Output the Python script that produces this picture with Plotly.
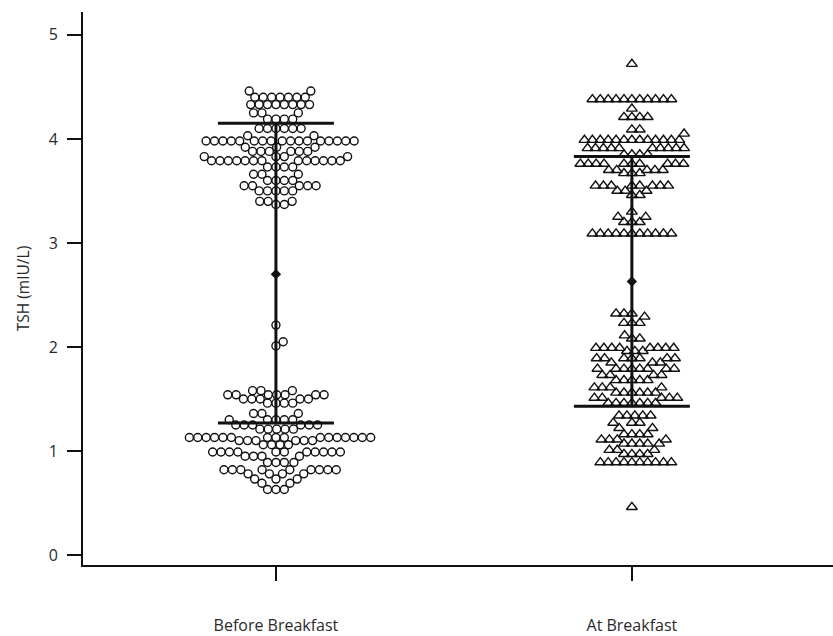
import numpy as np
import plotly.graph_objects as go

# Group labels and their category positions on the x axis
groups = ["Before Breakfast", "At Breakfast"]
group_pos = [0, 1]

# TSH readings (mIU/L), before breakfast
before_tsh = [
    4.46, 4.46,
    4.40, 4.40, 4.40, 4.40, 4.40, 4.40, 4.40,
    4.33, 4.33, 4.33, 4.33, 4.33, 4.33, 4.33, 4.33,
    4.25, 4.25, 4.25,
    4.19, 4.19, 4.19, 4.19,
    4.10, 4.10, 4.10, 4.10, 4.10, 4.10,
    4.03, 4.03,
    3.98, 3.98, 3.98, 3.98, 3.98, 3.98, 3.98, 3.98, 3.98, 3.98, 3.98, 3.98,
    3.98, 3.98, 3.98, 3.98, 3.98,
    3.92, 3.92, 3.92,
    3.88, 3.88, 3.88, 3.88, 3.88, 3.88,
    3.83, 3.83, 3.83, 3.83,
    3.79, 3.79, 3.79, 3.79, 3.79, 3.79, 3.79, 3.79, 3.79, 3.79, 3.79, 3.79, 3.79,
    3.73, 3.73, 3.73, 3.73,
    3.66, 3.66, 3.66,
    3.60, 3.60, 3.60, 3.60,
    3.55, 3.55, 3.55, 3.55, 3.55,
    3.50, 3.50, 3.50, 3.50, 3.50,
    3.40, 3.40, 3.40,
    3.37, 3.37,
    2.21, 2.05, 2.01,
    1.58, 1.58, 1.58,
    1.54, 1.54, 1.54, 1.54, 1.54, 1.54, 1.54,
    1.50, 1.50, 1.50, 1.50, 1.50,
    1.46, 1.46, 1.46, 1.46,
    1.36, 1.36, 1.36,
    1.30, 1.30, 1.30, 1.30, 1.30,
    1.25, 1.25, 1.25, 1.25, 1.25, 1.25,
    1.21, 1.21, 1.21, 1.21, 1.21,
    1.13, 1.13, 1.13, 1.13, 1.13, 1.13, 1.13, 1.13, 1.13, 1.13, 1.13, 1.13,
    1.13, 1.13, 1.13, 1.13,
    1.10, 1.10, 1.10, 1.10, 1.10, 1.10,
    1.06, 1.06, 1.06, 1.06,
    0.99, 0.99, 0.99, 0.99, 0.99, 0.99, 0.99, 0.99, 0.99, 0.99, 0.99,
    0.95, 0.95, 0.95, 0.95,
    0.89, 0.89, 0.89, 0.89,
    0.82, 0.82, 0.82, 0.82, 0.82, 0.82, 0.82, 0.82, 0.82,
    0.78, 0.78, 0.78, 0.78,
    0.73, 0.73, 0.73,
    0.69, 0.69,
    0.63, 0.63, 0.63,
]

# TSH readings (mIU/L), at breakfast
at_tsh = [
    4.72,
    4.38, 4.38, 4.38, 4.38, 4.38, 4.38, 4.38, 4.38, 4.38, 4.38, 4.38,
    4.29,
    4.21, 4.21, 4.21, 4.21,
    4.09, 4.09,
    4.05,
    3.99, 3.99, 3.99, 3.99, 3.99, 3.99, 3.99, 3.99, 3.99, 3.99, 3.99, 3.99, 3.99,
    3.91, 3.91, 3.91, 3.91, 3.91, 3.91, 3.91, 3.91, 3.91, 3.91,
    3.85, 3.85, 3.85, 3.85,
    3.76, 3.76, 3.76, 3.76, 3.76, 3.76, 3.76, 3.76, 3.76, 3.76,
    3.70, 3.70, 3.70, 3.70, 3.70,
    3.67, 3.67, 3.67,
    3.55, 3.55, 3.55, 3.55, 3.55, 3.55, 3.55, 3.55,
    3.50, 3.50, 3.50,
    3.46, 3.46,
    3.30,
    3.25, 3.25,
    3.20, 3.20, 3.20,
    3.09, 3.09, 3.09, 3.09, 3.09, 3.09, 3.09, 3.09, 3.09, 3.09, 3.09,
    2.32, 2.32, 2.32,
    2.29,
    2.23, 2.23, 2.23,
    2.11,
    2.08, 2.08,
    1.99, 1.99, 1.99, 1.99, 1.99, 1.99, 1.99, 1.99,
    1.96, 1.96, 1.96,
    1.89, 1.89, 1.89, 1.89, 1.89, 1.89, 1.89,
    1.85, 1.85, 1.85,
    1.79, 1.79, 1.79, 1.79, 1.79, 1.79, 1.79, 1.79,
    1.73, 1.73, 1.73, 1.73,
    1.68, 1.68, 1.68, 1.68, 1.68,
    1.61, 1.61, 1.61, 1.61,
    1.56, 1.56, 1.56, 1.56, 1.56, 1.56,
    1.51, 1.51, 1.51, 1.51, 1.51,
    1.46, 1.46, 1.46, 1.46, 1.46, 1.46, 1.46,
    1.34, 1.34, 1.34, 1.34, 1.34,
    1.27, 1.27, 1.27,
    1.22, 1.22,
    1.16, 1.16, 1.16, 1.16,
    1.11, 1.11, 1.11, 1.11,
    1.07, 1.07, 1.07, 1.07, 1.07,
    1.01, 1.01, 1.01,
    0.97, 0.97, 0.97, 0.97,
    0.89, 0.89, 0.89, 0.89, 0.89, 0.89, 0.89, 0.89, 0.89, 0.89,
    0.46,
]

# Group means and the lower / upper ends of the spread bars (mean ± SD)
group_mean = [2.70, 2.63]
group_low = [1.27, 1.43]
group_high = [4.15, 3.83]

# Figure geometry
W, H = 833, 636
M_L, M_R, M_T, M_B = 83, 0, 12, 68
X_RANGE = [-0.542, 1.565]
Y_RANGE = [-0.096, 5.22]
px_per_x = (W - M_L - M_R) / (X_RANGE[1] - X_RANGE[0])
px_per_y = (H - M_T - M_B) / (Y_RANGE[1] - Y_RANGE[0])


def swarm_offsets(values, diam):
    """Beeswarm layout: horizontal pixel offsets so markers of the given
    diameter do not overlap, each placed as close to the centre as possible."""
    ys = np.asarray(values, dtype=float) * px_per_y
    xs = np.zeros(len(ys))
    placed = []
    for i in np.argsort(ys, kind="stable"):
        y = ys[i]
        near = [(px, py) for px, py in placed if abs(py - y) < diam]
        cands = [0.0]
        for px, py in near:
            dx = np.sqrt(diam * diam - (py - y) ** 2)
            cands += [px + dx, px - dx]
        cands.sort(key=abs)
        for c in cands:
            if all((c - px) ** 2 + (y - py) ** 2 >= diam * diam - 1e-6 for px, py in near):
                xs[i] = c
                break
        placed.append((xs[i], y))
    return xs


before_x = group_pos[0] + swarm_offsets(before_tsh, 8.4) / px_per_x
at_x = group_pos[1] + swarm_offsets(at_tsh, 7.9) / px_per_x

fig = go.Figure()

fig.add_trace(go.Scatter(
    x=before_x, y=before_tsh, mode="markers",
    marker=dict(symbol="circle-open", size=8, color="#111111",
                line=dict(width=1.4, color="#111111")),
    hoverinfo="y", showlegend=False,
))
fig.add_trace(go.Scatter(
    x=at_x, y=at_tsh, mode="markers",
    marker=dict(symbol="triangle-up-open", size=9.5, color="#111111",
                line=dict(width=1.4, color="#111111")),
    hoverinfo="y", showlegend=False,
))

# Mean with spread bars
fig.add_trace(go.Scatter(
    x=group_pos, y=group_mean, mode="markers",
    marker=dict(symbol="diamond", size=8, color="#111111"),
    error_y=dict(
        type="data", symmetric=False,
        array=[h - m for h, m in zip(group_high, group_mean)],
        arrayminus=[m - l for m, l in zip(group_mean, group_low)],
        color="#111111", thickness=3, width=58,
    ),
    showlegend=False,
))

font_family = "Open Sans, Noto Sans, sans-serif"
text_color = "#2a2a2a"

fig.update_layout(
    width=W, height=H,
    margin=dict(l=M_L, r=M_R, t=M_T, b=M_B, pad=0),
    paper_bgcolor="white", plot_bgcolor="white",
    font=dict(family=font_family, size=15, color=text_color),
    xaxis=dict(
        range=X_RANGE, tickmode="array", tickvals=group_pos, ticktext=groups,
        showgrid=False, zeroline=False,
        showline=True, linecolor="#111111", linewidth=2,
        ticks="outside", ticklen=14, tickwidth=2, tickcolor="#111111",
        ticklabelstandoff=31,
        tickfont=dict(size=16, color=text_color),
    ),
    yaxis=dict(
        range=Y_RANGE, tickmode="array", tickvals=[0, 1, 2, 3, 4, 5],
        showgrid=False, zeroline=False,
        showline=True, linecolor="#111111", linewidth=2,
        ticks="outside", ticklen=14, tickwidth=2, tickcolor="#111111",
        ticklabelstandoff=6,
        tickfont=dict(size=16, color=text_color),
        title=dict(text="TSH (mIU/L)", font=dict(size=15.5, color=text_color), standoff=15),
    ),
)

fig.write_html("out.html")
